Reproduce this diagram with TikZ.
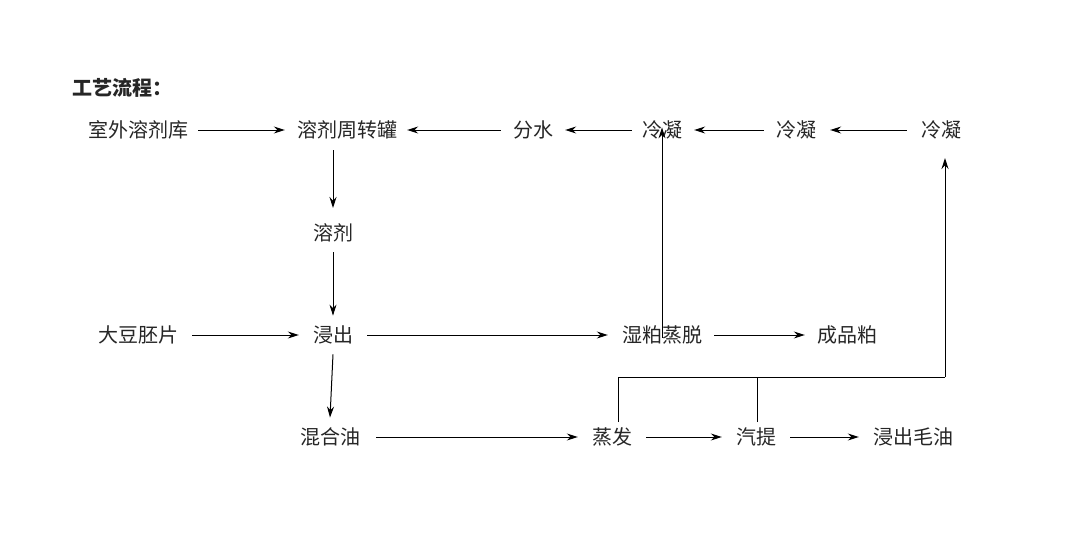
\documentclass[tikz,border=0pt]{standalone}
\usepackage{fontspec}
\setmainfont{Noto Sans CJK SC}
\usetikzlibrary{arrows.meta}
\begin{document}
\begin{tikzpicture}[x=1pt,y=-1pt,
  lbl/.style={font=\fontsize{20}{22}\selectfont, text=black!85, inner sep=0pt},
  arr/.style={-{Stealth[length=11pt,width=7pt]}, line width=1pt},
  ln/.style={line width=1pt}]
\useasboundingbox (0,0) rectangle (1080,535);
\node[lbl,font=\fontsize{20}{22}\selectfont\bfseries,anchor=west] (t) at (72,88) {工艺流程：};
\node[lbl] (a) at (138,130) {室外溶剂库};
\node[lbl] (b) at (347,130) {溶剂周转罐};
\node[lbl] (c) at (533,130) {分水};
\node[lbl] (d) at (662,130) {冷凝};
\node[lbl] (e) at (796,130) {冷凝};
\node[lbl] (f) at (941,130) {冷凝};
\node[lbl] (g) at (333,233) {溶剂};
\node[lbl] (h) at (138,335) {大豆胚片};
\node[lbl] (i) at (333,335) {浸出};
\node[lbl] (j) at (662,335) {湿粕蒸脱};
\node[lbl] (k) at (847,335) {成品粕};
\node[lbl] (l) at (330,437) {混合油};
\node[lbl] (m) at (612,437) {蒸发};
\node[lbl] (n) at (756,437) {汽提};
\node[lbl] (o) at (913,437) {浸出毛油};
\coordinate (b1) at (333,150); \coordinate (b2) at (333,208);
\coordinate (p1) at (618,422); \coordinate (p2) at (618,377);
\coordinate (p3) at (945,377); \coordinate (p4) at (945,158);
\coordinate (q1) at (757,422); \coordinate (q2) at (757,377);
\draw[arr] ([xshift=10pt]a.east) -- ([xshift=-12pt]b.west);
\draw[arr] (b1) -- (b2);
\draw[arr] ([xshift=-12pt]c.west) -- ([xshift=10pt]b.east);
\draw[arr] ([xshift=-10pt]d.west) -- ([xshift=12pt]c.east);
\draw[arr] ([xshift=-12pt]e.west) -- ([xshift=12pt]d.east);
\draw[arr] ([xshift=-14pt]f.west) -- ([xshift=14pt]e.east);
\draw[arr] ([yshift=-10pt]g.south) -- ([yshift=10pt]i.north);
\draw[arr] ([xshift=14pt]h.east) -- ([xshift=-14pt]i.west);
\draw[arr] ([xshift=14pt]i.east) -- ([xshift=-14pt]j.west);
\draw[arr] ([yshift=-12pt]j.north) -- ([yshift=12pt]d.south);
\draw[arr] ([xshift=12pt]j.east) -- ([xshift=-12pt]k.west);
\draw[arr] ([yshift=-10pt]i.south) -- ([yshift=10pt]l.north);
\draw[arr] ([xshift=16pt]l.east) -- ([xshift=-14pt]m.west);
\draw[arr] ([xshift=14pt]m.east) -- ([xshift=-14pt]n.west);
\draw[arr] ([xshift=14pt]n.east) -- ([xshift=-14pt]o.west);
\draw[ln] (p1) -- (p2) -- (p3);
\draw[arr] (p3) -- (p4);
\draw[ln] (q1) -- (q2);
\end{tikzpicture}
\end{document}
